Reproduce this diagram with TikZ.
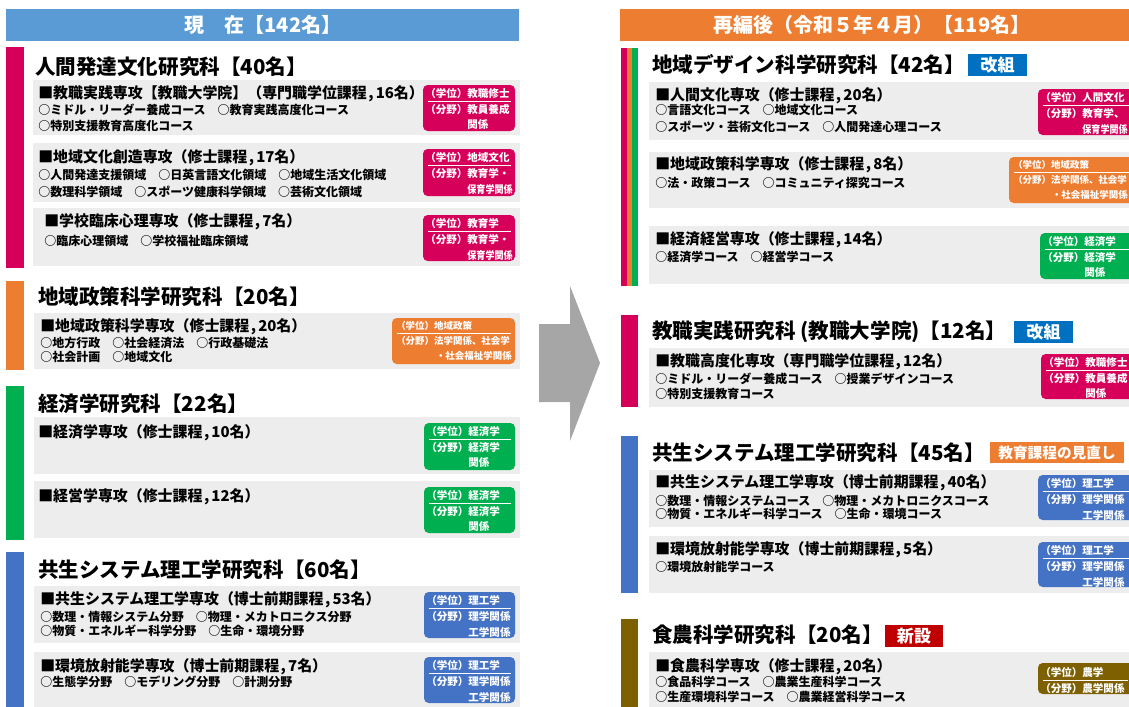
\documentclass[tikz,border=0pt]{standalone}
\usepackage{fontspec}
\usepackage{graphicx}
\setmainfont{Noto Sans CJK JP}
\definecolor{pinkc}{RGB}{214,0,90}
\definecolor{orangec}{RGB}{237,125,49}
\definecolor{greenc}{RGB}{0,176,80}
\definecolor{bluec}{RGB}{68,114,196}
\definecolor{hdrblue}{RGB}{91,155,213}
\definecolor{brownc}{RGB}{127,96,0}
\definecolor{tagblue}{RGB}{0,112,192}
\definecolor{tagred}{RGB}{192,0,0}
\definecolor{grayc}{RGB}{237,237,237}
\definecolor{arrowc}{RGB}{166,166,166}
\newcommand\cm{\kern0.1em,\kern0.15em}
\newcommand\sq[1]{\scalebox{0.86}[1]{#1}}
\def\bsize{7.9}
% badge: name, colour, x1, y1, x2, y2, line1, line2, line3
\newcommand\bdg[9]{%
  \fill[#2,rounded corners=3.5pt] (#3,#4) rectangle (#5,#6);
  \draw[white,line width=0.75pt] (#3+5,#4+16) -- (#5-4,#4+16);
  \node[bt] (#1a) at (#3+2,#4+8.5) {（学位）#7};
  \node[bt] (#1b) at (#3+2,#4+24.5) {（分野）#8};
  \node[bt] (#1c) at (#3+2,#4+40) {\hphantom{（分野）}#9};
}
\begin{document}
\begin{tikzpicture}[x=0.75pt,y=-0.75pt,
  hdr/.style={text=white,font=\bfseries\fontsize{15}{18}\selectfont,inner sep=0},
  ttl/.style={anchor=west,inner sep=0,font=\bfseries\fontsize{15.4}{18}\selectfont},
  subttl/.style={anchor=west,inner sep=0,font=\bfseries\fontsize{11.2}{13}\selectfont},
  crs/.style={anchor=west,inner sep=0,font=\bfseries\fontsize{9}{11}\selectfont},
  bt/.style={anchor=west,inner sep=0,text=white,font=\bfseries\fontsize{\bsize}{9}\selectfont},
  tagtxt/.style={text=white,font=\bfseries\fontsize{12.8}{14}\selectfont,inner sep=0},
  panel/.style={fill=grayc}]
\useasboundingbox (0,0) rectangle (1129,707);

% ---------------- LEFT ----------------
\fill[hdrblue] (6,9) rectangle (519,41);
\node[hdr] (hL) at (263,25) {現　在【142名】};

% section 1
\fill[pinkc] (6,47) rectangle (24,268);
\node[ttl] (tL1) at (35,67) {人間発達文化研究科【40名】};
\fill[panel] (33,80) rectangle (520,135);
\node[subttl] (sL1) at (38,94) {■教職実践専攻【教職大学院】（専門職学位課程\cm16名）};
\node[crs] (cL1a) at (38,110) {○ミドル・リーダー養成コース　○教育実践高度化コース};
\node[crs] (cL1b) at (38,126) {○特別支援教育高度化コース};
\bdg{bL1}{pinkc}{423}{85}{515}{131}{教職修士}{教員養成}{関係}
\fill[panel] (33,143) rectangle (520,202);
\node[subttl] (sL2) at (38,158) {■地域文化創造専攻（修士課程\cm17名）};
\node[crs] (cL2a) at (38,175) {○人間発達支援領域　○日英言語文化領域　○地域生活文化領域};
\node[crs] (cL2b) at (38,192) {○数理科学領域　○スポーツ健康科学領域　○芸術文化領域};
\bdg{bL2}{pinkc}{423}{149}{515}{196}{地域文化}{教育学・}{\sq{保育学関係}}
\fill[panel] (33,208) rectangle (520,266);
\node[subttl] (sL3) at (44,222) {■学校臨床心理専攻（修士課程\cm7名）};
\node[crs] (cL3a) at (44,241) {○臨床心理領域　○学校福祉臨床領域};
\bdg{bL3}{pinkc}{423}{215}{515}{261}{教育学}{教育学・}{\sq{保育学関係}}

% section 2
\fill[orangec] (6,281) rectangle (24,370);
\node[ttl] (tL2) at (38,297) {地域政策科学研究科【20名】};
\fill[panel] (34,313) rectangle (520,369);
\node[subttl] (sL4) at (40,327) {■地域政策科学専攻（修士課程\cm20名）};
\node[crs] (cL4a) at (40,343) {○地方行政　○社会経済法　○行政基礎法};
\node[crs] (cL4b) at (40,357) {○社会計画　○地域文化};
{\def\bsize{7.1}
\fill[orangec,rounded corners=3.5pt] (392,318) rectangle (515,364);
\draw[white,line width=0.75pt] (397,333) -- (511,333);
\node[bt] (bL4a) at (396,326) {（学位）地域政策};
\node[bt] (bL4b) at (396,341) {（分野）法学関係、社会学};
\node[bt,anchor=east] (bL4c) at (512,356) {・社会福祉学関係};
}

% section 3
\fill[greenc] (6,386) rectangle (24,540);
\node[ttl] (tL3) at (38,404) {経済学研究科【22名】};
\fill[panel] (34,417) rectangle (520,474);
\node[subttl] (sL5) at (38,433) {■経済学専攻（修士課程\cm10名）};
\bdg{bL5}{greenc}{424}{423}{515}{470}{経済学}{経済学}{関係}
\fill[panel] (34,481) rectangle (520,538);
\node[subttl] (sL6) at (38,497) {■経営学専攻（修士課程\cm12名）};
\bdg{bL6}{greenc}{424}{487}{515}{533}{経済学}{経済学}{関係}

% section 4
\fill[bluec] (6,552) rectangle (24,710);
\node[ttl] (tL4) at (38,570) {共生システム理工学研究科【60名】};
\fill[panel] (34,586) rectangle (520,643);
\node[subttl] (sL7) at (40,600) {■共生システム理工学専攻（博士前期課程\cm53名）};
\node[crs] (cL7a) at (40,617) {○数理・情報システム分野　○物理・メカトロニクス分野};
\node[crs] (cL7b) at (40,631) {○物質・エネルギー科学分野　○生命・環境分野};
\bdg{bL7}{bluec}{424}{592}{515}{638}{理工学}{理学関係}{工学関係}
\fill[panel] (34,652) rectangle (520,710);
\node[subttl] (sL8) at (40,667) {■環境放射能学専攻（博士前期課程\cm7名）};
\node[crs] (cL8a) at (40,682) {○生態学分野　○モデリング分野　○計測分野};
\bdg{bL8}{bluec}{424}{657}{515}{703}{理工学}{理学関係}{工学関係}

% ---------------- ARROW ----------------
\fill[arrowc] (539,324) -- (570,324) -- (570,286) -- (600,363) -- (570,441) -- (570,402) -- (539,402) -- cycle;

% ---------------- RIGHT ----------------
\fill[orangec] (620,9) rectangle (1132,41);
\node[hdr] (hR) at (872,25) {再編後（令和５年４月）【119名】};

% R1
\fill[pinkc] (621,48) rectangle (627,286);
\fill[orangec] (627,48) rectangle (632,286);
\fill[greenc] (632,48) rectangle (638,286);
\node[ttl] (tR1) at (652,65) {地域デザイン科学研究科【42名】};
\fill[tagblue] (968,54) rectangle (1027,76);
\node[tagtxt] (gR1) at (997.5,65) {改組};
\fill[panel] (649,82) rectangle (1132,140);
\node[subttl] (sR1) at (655,96) {■人間文化専攻（修士課程\cm20名）};
\node[crs] (cR1a) at (655,110) {○言語文化コース　○地域文化コース};
\node[crs] (cR1b) at (655,127) {○スポーツ・芸術文化コース　○人間発達心理コース};
\bdg{bR1}{pinkc}{1038}{89}{1134}{135}{人間文化}{教育学、}{\sq{保育学関係}}
\fill[panel] (649,152) rectangle (1132,208);
\node[subttl] (sR2) at (655,165) {■地域政策科学専攻（修士課程\cm8名）};
\node[crs] (cR2a) at (655,183) {○法・政策コース　○コミュニティ探究コース};
{\def\bsize{7.1}
\fill[orangec,rounded corners=3.5pt] (1009,157) rectangle (1134,203);
\draw[white,line width=0.75pt] (1014,172) -- (1129,172);
\node[bt] (bR2a) at (1013,165) {（学位）地域政策};
\node[bt] (bR2b) at (1013,180) {（分野）法学関係、社会学};
\node[bt,anchor=east] (bR2c) at (1128,195) {・社会福祉学関係};
}
\fill[panel] (649,226) rectangle (1132,284);
\node[subttl] (sR3) at (655,240) {■経済経営専攻（修士課程\cm14名）};
\node[crs] (cR3a) at (655,257) {○経済学コース　○経営学コース};
\bdg{bR3}{greenc}{1040}{233}{1134}{279}{経済学}{経済学}{関係}

% R2
\fill[pinkc] (621,315) rectangle (638,407);
\node[ttl] (tR2) at (652,332) {教職実践研究科 (教職大学院)【12名】};
\fill[tagblue] (1014,321) rectangle (1073,343);
\node[tagtxt] (gR2) at (1043.5,332) {改組};
\fill[panel] (649,348) rectangle (1132,407);
\node[subttl] (sR4) at (655,362) {■教職高度化専攻（専門職学位課程\cm12名）};
\node[crs] (cR4a) at (655,379) {○ミドル・リーダー養成コース　○授業デザインコース};
\node[crs] (cR4b) at (655,394) {○特別支援教育コース};
\bdg{bR4}{pinkc}{1041}{354}{1134}{399}{教職修士}{教員養成}{関係}

% R3
\fill[bluec] (621,436) rectangle (638,593);
\node[ttl] (tR3) at (652,453) {共生システム理工学研究科【45名】};
\fill[orangec] (990,442) rectangle (1124,463);
\node[tagtxt,font=\bfseries\fontsize{11}{13}\selectfont] (gR3) at (1057,452.5) {教育課程の見直し};
\fill[panel] (649,470) rectangle (1132,527);
\node[subttl] (sR5) at (655,483) {■共生システム理工学専攻（博士前期課程\cm40名）};
\node[crs] (cR5a) at (655,501) {○数理・情報システムコース　○物理・メカトロニクスコース};
\node[crs] (cR5b) at (655,514) {○物質・エネルギー科学コース　○生命・環境コース};
\bdg{bR5}{bluec}{1038}{475}{1134}{520}{理工学}{理学関係}{工学関係}
\fill[panel] (649,536) rectangle (1132,593);
\node[subttl] (sR6) at (655,550) {■環境放射能学専攻（博士前期課程\cm5名）};
\node[crs] (cR6a) at (655,567) {○環境放射能学コース};
\bdg{bR6}{bluec}{1038}{542}{1134}{587}{理工学}{理学関係}{工学関係}

% R4
\fill[brownc] (621,619) rectangle (638,710);
\node[ttl] (tR4) at (652,635) {食農科学研究科【20名】};
\fill[tagred] (885,625) rectangle (943,647);
\node[tagtxt] (gR4) at (914,636) {新設};
\fill[panel] (649,652) rectangle (1132,710);
\node[subttl] (sR7) at (655,667) {■食農科学専攻（修士課程\cm20名）};
\node[crs] (cR7a) at (655,682) {○食品科学コース　○農業生産科学コース};
\node[crs] (cR7b) at (655,697) {○生産環境科学コース　○農業経営科学コース};
\fill[brownc,rounded corners=3.5pt] (1038,663) rectangle (1134,694);
\draw[white,line width=0.75pt] (1043,680) -- (1128,680);
\node[bt] (bR7a) at (1040,672) {（学位）農学};
\node[bt] (bR7b) at (1040,688) {（分野）農学関係};
\end{tikzpicture}
\end{document}
